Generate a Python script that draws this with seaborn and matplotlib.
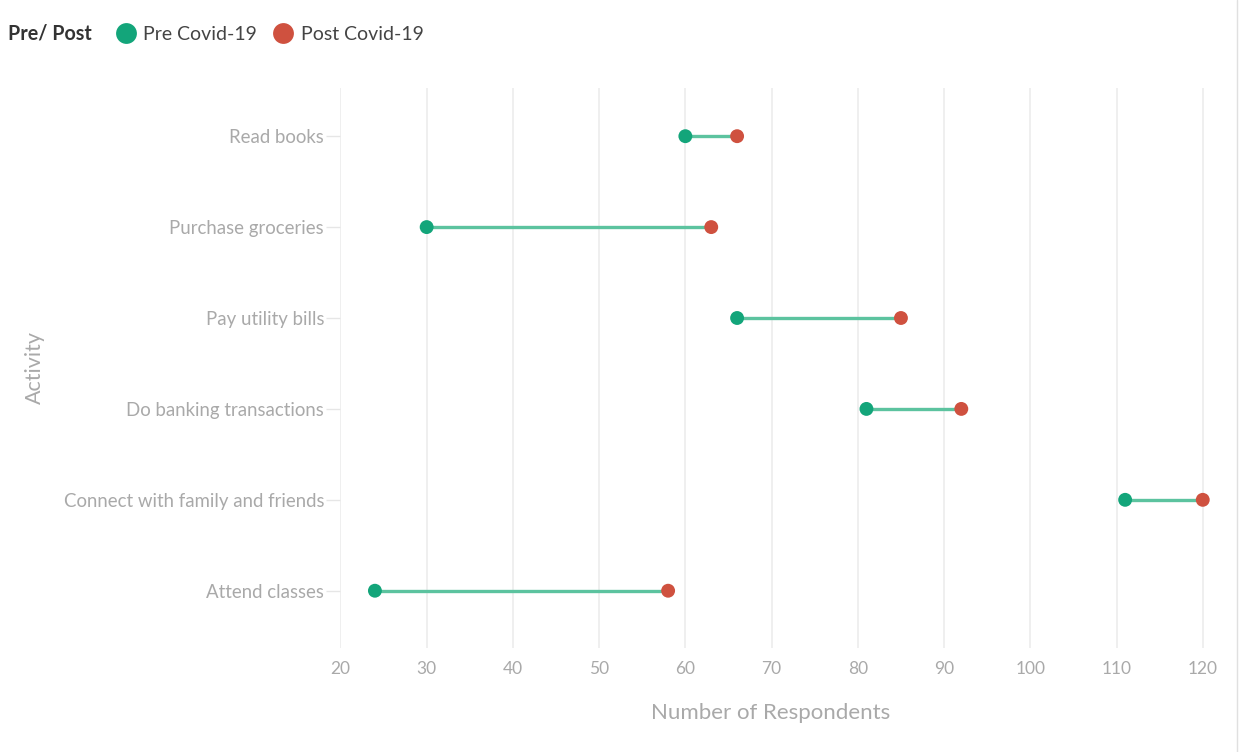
import pandas as pd
import matplotlib.pyplot as plt
import seaborn as sns
from matplotlib.lines import Line2D

# data
activities = ["Read books", "Purchase groceries", "Pay utility bills",
              "Do banking transactions", "Connect with family and friends",
              "Attend classes"]
pre_covid = [60, 30, 66, 81, 111, 24]
post_covid = [66, 63, 85, 92, 120, 58]
periods = ["Pre Covid-19", "Post Covid-19"]
x_ticks = [20, 30, 40, 50, 60, 70, 80, 90, 100, 110, 120]

green = "#13a57a"
red = "#cf513f"
grey_text = "#a9a9a9"

df = pd.DataFrame({
    "Activity": activities * 2,
    "Respondents": pre_covid + post_covid,
    "Period": [periods[0]] * len(activities) + [periods[1]] * len(activities),
})

sns.set_theme(style="white")
plt.rcParams["font.family"] = ["Lato", "DejaVu Sans"]

fig = plt.figure(figsize=(12.39, 7.52), dpi=100)
ax = fig.add_axes([340 / 1239, 1 - 648 / 752, 880 / 1239, 560 / 752])

# connecting lines
ax.hlines(y=activities, xmin=pre_covid, xmax=post_covid,
          color="#5cc39f", linewidth=2.4, zorder=1)

sns.scatterplot(data=df, x="Respondents", y="Activity", hue="Period",
                palette=[green, red], s=100, linewidth=0, ax=ax,
                zorder=3, legend=False)

ax.set_xlim(19.95, 122)
ax.set_ylim(len(activities) - 1 + 0.63, -0.53)
ax.set_xticks(x_ticks)
ax.grid(axis="x", color="#ececec", linewidth=1.2)
ax.grid(axis="y", visible=False)
for s in ax.spines.values():
    s.set_visible(False)

ax.tick_params(axis="x", length=0, pad=9, labelsize=12.5, labelcolor=grey_text)
ax.tick_params(axis="y", length=10, width=1, color="#e6e6e6", pad=1.5,
               labelsize=13.4, labelcolor=grey_text, left=True)

ax.set_xlabel("Number of Respondents", fontsize=16, color=grey_text)
ax.xaxis.set_label_coords((771 - 340) / 880, -0.098)
ax.set_ylabel("Activity", fontsize=15.5, color=grey_text)
ax.yaxis.set_label_coords(-0.335, 0.5)

# legend at top
fig.text(8 / 1239, 1 - 34 / 752, "Pre/ Post", fontsize=14.2, fontweight="bold",
         color="#333333", va="center", ha="left")
handles = [Line2D([], [], marker="o", linestyle="", markersize=15,
                  markerfacecolor=c, markeredgewidth=0) for c in [green, red]]
leg = fig.legend(handles, periods, loc="center left",
                 bbox_to_anchor=(114 / 1239, 1 - 34 / 752), ncol=2,
                 frameon=False, fontsize=14, handletextpad=0.3,
                 columnspacing=0.75, handlelength=1.2, borderaxespad=0,
                 borderpad=0)
for t in leg.get_texts():
    t.set_color("#444444")

# thin frame line at the right edge of the reference image
fig.add_artist(Line2D([1237 / 1239, 1237 / 1239], [0, 1], color="#e0e0e0",
                      linewidth=1, transform=fig.transFigure))

fig.savefig("out.png", dpi=100)
